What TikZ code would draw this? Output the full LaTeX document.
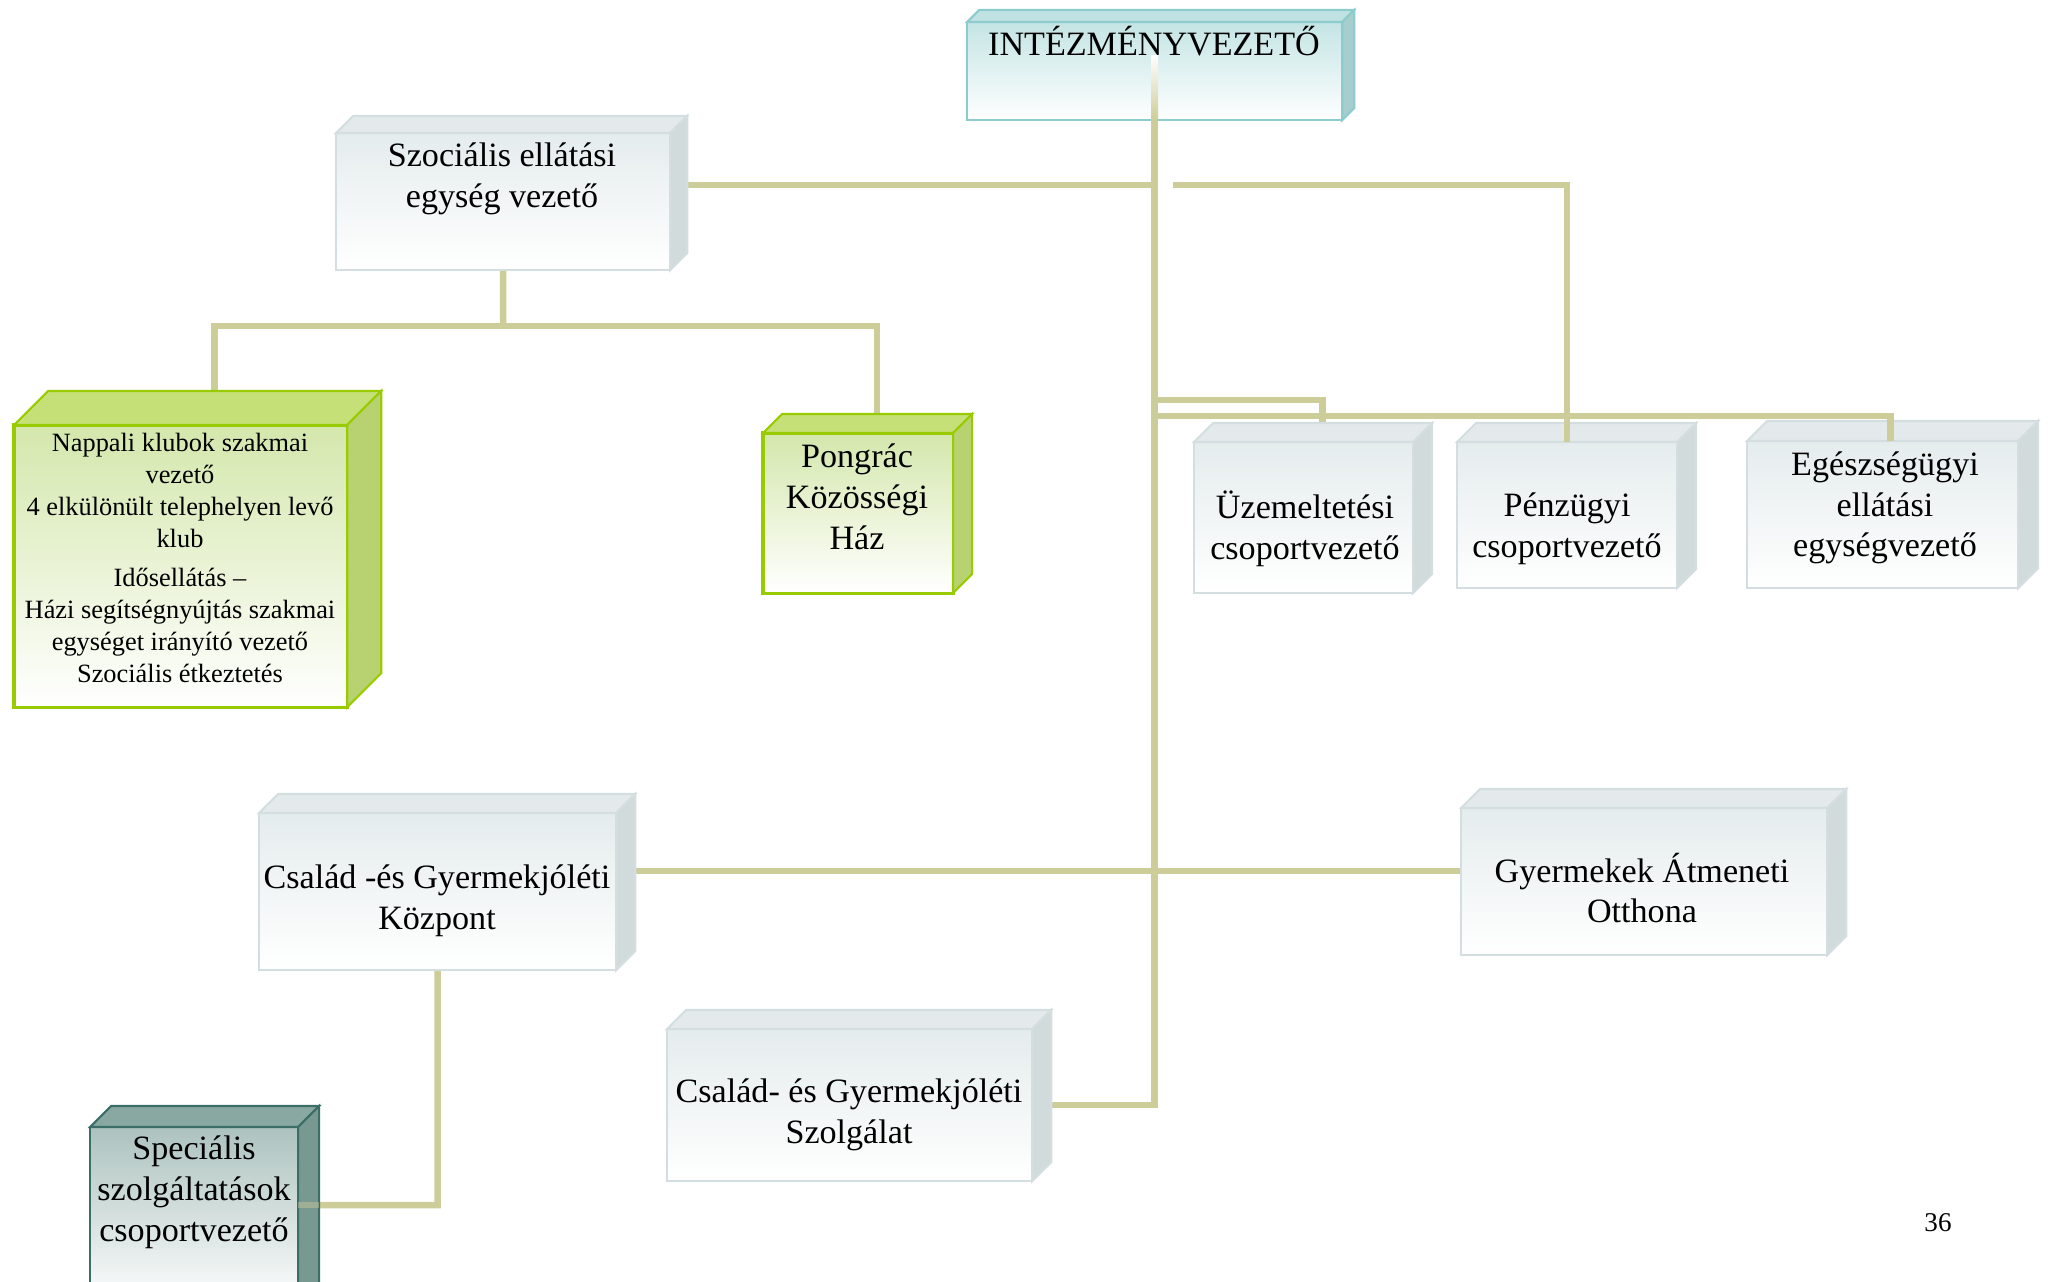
\documentclass[tikz,border=0pt]{standalone}
\usepackage{fontspec}
\setmainfont{Liberation Serif}
\usetikzlibrary{calc}

\definecolor{linkc}{RGB}{205,205,153}
\definecolor{greyline}{RGB}{212,222,224}
\definecolor{greyfront}{RGB}{229,236,237}
\definecolor{greytop}{RGB}{228,234,235}
\definecolor{greyside}{RGB}{210,219,220}
\definecolor{tealline}{RGB}{140,204,204}
\definecolor{tealfront}{RGB}{196,228,228}
\definecolor{tealtop}{RGB}{192,226,226}
\definecolor{tealside}{RGB}{166,206,206}
\definecolor{greenline}{RGB}{153,204,0}
\definecolor{greenfront}{RGB}{212,231,172}
\definecolor{greentop}{RGB}{198,224,120}
\definecolor{greenside}{RGB}{184,210,114}
\definecolor{darkline}{RGB}{60,110,104}
\definecolor{darkfront}{RGB}{172,194,190}
\definecolor{darktop}{RGB}{138,168,162}
\definecolor{darkside}{RGB}{120,152,146}

\pgfdeclarelayer{bg}
\pgfsetlayers{bg,main}

\tikzset{
  box/.style={rectangle, outer sep=0pt, inner sep=0pt, anchor=north west},
  greybox/.style={box, draw=greyline, line width=0.6pt, top color=greyfront, bottom color=white},
  tealbox/.style={box, draw=tealline, line width=0.7pt, top color=tealfront, bottom color=white},
  greenbox/.style={box, draw=greenline, line width=0.9pt, top color=greenfront, bottom color=white},
  darkbox/.style={box, draw=darkline, line width=0.8pt, top color=darkfront, bottom color=white},
  link/.style={draw=linkc, line width=1.85pt},
  lbl/.style={align=center, font=\fontsize{9.7}{11.6}\selectfont},
  small/.style={align=center, font=\fontsize{7.5}{9.1}\selectfont},
}

% top and right faces of a box node: node, depth, line colour, top fill, side fill
\newcommand{\faces}[5]{%
  \filldraw[draw=#3, fill=#4, line width=0.6pt] (#1.north west) -- ++(#2,-#2) -- ($(#1.north east)+(#2,-#2)$) -- (#1.north east) -- cycle;
  \filldraw[draw=#3, fill=#5, line width=0.6pt] (#1.north east) -- ++(#2,-#2) -- ($(#1.south east)+(#2,-#2)$) -- (#1.south east) -- cycle;
}

\begin{document}
\begin{tikzpicture}[x=0.01cm, y=-0.01cm]
    \useasboundingbox (0,0) rectangle (2048,1281);

    % top
    \node[tealbox, minimum width=3.75cm, minimum height=0.98cm] (iv) at (967,22) {};
    \faces{iv}{12}{tealline}{tealtop}{tealside}
    \shade[top color=white, bottom color=linkc] (1151,55) rectangle (1158,120);
    \node[lbl] (iv-t) at (1154,41) {INTÉZMÉNYVEZETŐ};

    % social branch
    \node[greybox, minimum width=3.34cm, minimum height=1.37cm] (sz) at (336,133) {};
    \faces{sz}{17}{greyline}{greytop}{greyside}
    \node[lbl] (sz-t) at (502,179) {Szociális ellátási\\egység vezető};

    \node[greenbox, minimum width=3.33cm, minimum height=2.82cm] (nk) at (14,425) {};
    \faces{nk}{34}{greenline}{greentop}{greenside}
    \node[small] (nk-t) at (180,558) {Nappali klubok szakmai\\vezető\\4 elkülönült telephelyen levő\\klub\\[2pt]Idősellátás --\\Házi segítségnyújtás szakmai\\egységet irányító vezető\\Szociális étkeztetés};

    \node[greenbox, minimum width=1.90cm, minimum height=1.60cm] (ph) at (763,433) {};
    \faces{ph}{19}{greenline}{greentop}{greenside}
    \node[lbl] (ph-t) at (857,497) {Pongrác\\Közösségi\\Ház};

    % right row
    \node[greybox, minimum width=2.19cm, minimum height=1.51cm] (uz) at (1194,442) {};
    \faces{uz}{19}{greyline}{greytop}{greyside}
    \node[lbl] (uz-t) at (1305,529) {Üzemeltetési\\csoportvezető};

    \node[greybox, minimum width=2.20cm, minimum height=1.46cm] (pz) at (1457,442) {};
    \faces{pz}{19}{greyline}{greytop}{greyside}
    \node[lbl] (pz-t) at (1567,529) {Pénzügyi\\csoportvezető};

    \node[greybox, minimum width=2.71cm, minimum height=1.47cm] (eg) at (1747,441) {};
    \faces{eg}{20}{greyline}{greytop}{greyside}
    \node[lbl] (eg-t) at (1885,508) {Egészségügyi\\ellátási\\egységvezető};

    % family branch
    \node[greybox, minimum width=3.57cm, minimum height=1.57cm] (ck) at (259,813) {};
    \faces{ck}{19}{greyline}{greytop}{greyside}
    \node[lbl] (ck-t) at (437,901) {Család -és Gyermekjóléti\\Központ};

    \node[greybox, minimum width=3.66cm, minimum height=1.47cm] (go) at (1461,808) {};
    \faces{go}{19}{greyline}{greytop}{greyside}
    \node[lbl] (go-t) at (1642,888) {Gyermekek Átmeneti\\Otthona};

    \node[greybox, minimum width=3.65cm, minimum height=1.52cm] (cs) at (667,1029) {};
    \faces{cs}{19}{greyline}{greytop}{greyside}
    \node[lbl] (cs-t) at (849,1115) {Család- és Gyermekjóléti\\Szolgálat};

    \node[darkbox, minimum width=2.08cm, minimum height=1.80cm] (sp) at (90,1127) {};
    \faces{sp}{21}{darkline}{darktop}{darkside}
    \node[lbl] (sp-t) at (194,1192) {Speciális\\szolgáltatások\\csoportvezető};

    \node[font=\fontsize{7.7}{9}\selectfont] (pg) at (1938,1223) {36};

    % connectors
    \coordinate (j1) at (1154.5,185);
    \coordinate (j2) at (1173,185);
    \coordinate (j3) at (1154.5,400);
    \coordinate (j4) at (1154.5,416);
    \coordinate (j5) at (1154.5,871);
    \coordinate (j6) at (503,326);
    \coordinate (j7) at (437.5,1205);

    \begin{pgfonlayer}{bg}
    \draw[link] (iv.south) |- (cs.east);
    \draw[link] (sz.east |- j1) -- (j1);
    \draw[link] (j3) -| ($(uz.north)+(19,0)$);
    \draw[link] (ck.east |- j5) -- (go.west |- j5);

    \draw[link] (sz.south) -- (j6);
    \draw[link] ($(nk.north)+(34,0)$) |- (j6) -| ($(ph.north)+(19,0)$);
    \draw[link] (ck.south) -- (j7) -- (sp.east |- j7);
    \end{pgfonlayer}
    \draw[link] (j2) -| (pz.north);
    \draw[link] (j4) -| ($(eg.north)+(8,0)$);
    \draw[link, opacity=0.45] ($(sp.east |- j7)+(21,0)$) -- (sp.east |- j7);

\end{tikzpicture}
\end{document}
